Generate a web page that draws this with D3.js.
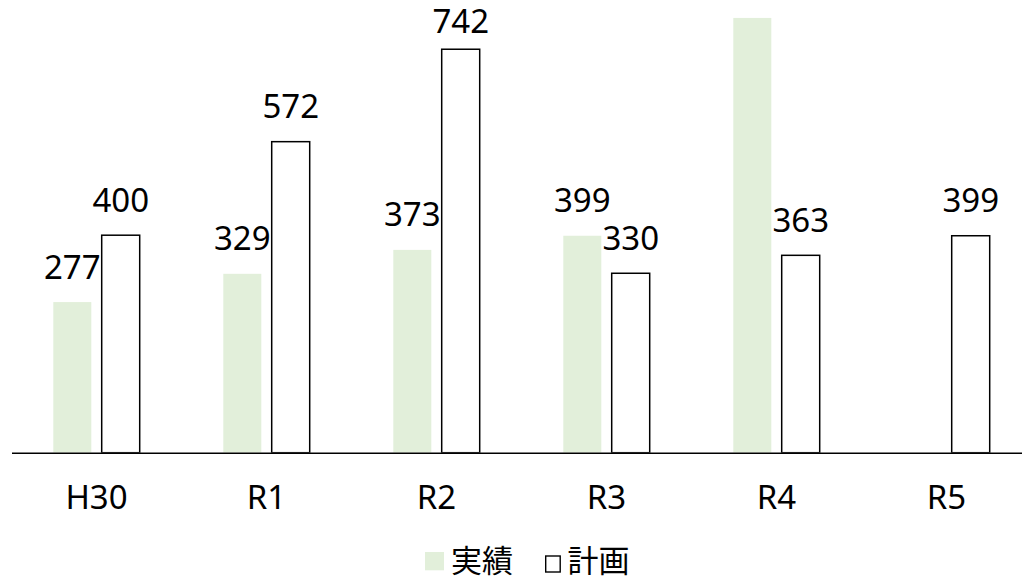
<!DOCTYPE html>
<html><head><meta charset="utf-8">
<script src="https://cdn.jsdelivr.net/npm/d3@7"></script>
<style>html,body{margin:0;padding:0;background:#fff;overflow:hidden}</style>
</head><body>
<svg id="c" width="1022" height="577"></svg>
<script>
const categories = ["H30", "R1", "R2", "R3", "R4", "R5"];
const actualValues = [277, 329, 373, 399, 850, null];
const planValues = [400, 572, 742, 330, 363, 399];
const seriesNames = ["実績", "計画"];
const yMax = 800;

const svg = d3.select("#c");
const font = "'Noto Sans', 'Noto Sans CJK JP', sans-serif";
const cjkFont = "'Noto Sans CJK JP', 'Noto Sans', sans-serif";
const green = "#E2EFDA";
const fs = 33;

const x = d3.scaleBand().domain(categories).range([11.5, 1031.5]).paddingInner(0).paddingOuter(0);
const y = d3.scaleLinear().domain([0, yMax]).range([452.7, 17.7]);
const barW = 38, gap = 10.4;
const groupW = barW * 2 + gap;
const off = (x.bandwidth() - groupW) / 2;

svg.append("defs").append("clipPath").attr("id", "plot")
  .append("rect").attr("x", 0).attr("y", y(yMax)).attr("width", 1100).attr("height", y(0) - y(yMax));

const plot = svg.append("g").attr("clip-path", "url(#plot)");

const data = categories.map((c, i) => ({c, a: actualValues[i], p: planValues[i]}));

plot.selectAll(".a").data(data.filter(d => d.a != null)).join("rect")
  .attr("x", d => x(d.c) + off)
  .attr("y", d => y(Math.min(d.a, yMax)))
  .attr("width", barW)
  .attr("height", d => y(0) - y(Math.min(d.a, yMax)))
  .attr("fill", green);

plot.selectAll(".p").data(data.filter(d => d.p != null)).join("rect")
  .attr("x", d => x(d.c) + off + barW + gap)
  .attr("y", d => y(d.p))
  .attr("width", barW)
  .attr("height", d => y(0) - y(d.p))
  .attr("fill", "#fff").attr("stroke", "#000").attr("stroke-width", 1.5);

const labelY = v => Math.max(y(v) - 23.5, 33.3);

svg.selectAll(".la").data(data.filter(d => d.a != null && d.a <= yMax)).join("text")
  .attr("x", d => x(d.c) + off + barW / 2)
  .attr("y", d => labelY(d.a))
  .attr("text-anchor", "middle").attr("font-family", font).attr("font-size", fs).attr("fill", "#000")
  .text(d => d.a);
svg.selectAll(".lp").data(data.filter(d => d.p != null && d.p <= yMax)).join("text")
  .attr("x", d => x(d.c) + off + barW * 1.5 + gap)
  .attr("y", d => labelY(d.p))
  .attr("text-anchor", "middle").attr("font-family", font).attr("font-size", fs).attr("fill", "#000")
  .text(d => d.p);

// axis
const xAxis = d3.axisBottom(x).tickSize(0).tickPadding(0);
const ax = svg.append("g").attr("transform", `translate(0,${y(0)})`).call(xAxis);
ax.select(".domain").attr("stroke", "#000").attr("stroke-width", 1.6);
ax.selectAll("text").attr("font-family", font).attr("font-size", fs).attr("fill", "#000")
  .attr("dy", 0).attr("y", 56.6);

// legend
const lg = svg.append("g");
lg.append("rect").attr("x", 425).attr("y", 552).attr("width", 19).attr("height", 18.3).attr("fill", green);
lg.append("text").attr("x", 451).attr("y", 571.5).attr("font-family", cjkFont).attr("font-size", 31).attr("fill", "#000").text(seriesNames[0]);
lg.append("rect").attr("x", 545.7).attr("y", 556).attr("width", 14.5).attr("height", 16).attr("fill", "#fff").attr("stroke", "#000").attr("stroke-width", 1.4);
lg.append("text").attr("x", 567.5).attr("y", 571.5).attr("font-family", cjkFont).attr("font-size", 31).attr("fill", "#000").text(seriesNames[1]);
</script>
</body></html>
